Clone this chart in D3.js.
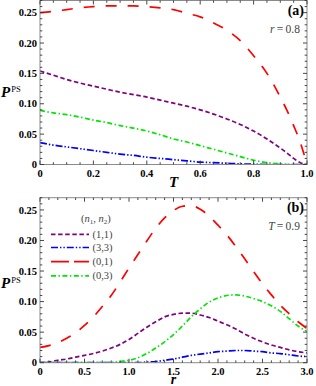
<!DOCTYPE html>
<html><head><meta charset="utf-8">
<script src="https://cdn.jsdelivr.net/npm/d3@7"></script>
<style>body{margin:0;background:#fff}svg{display:block}text{font-family:"Liberation Serif","Times New Roman",serif}</style>
</head><body><svg id="c" width="316" height="386" font-family="Liberation Serif, Times New Roman, serif"></svg>
<script>
// ---------- data: panel (a), r = 0.8 ----------
const tValues = [0,0.05,0.1,0.15,0.2,0.25,0.3,0.35,0.4,0.45,0.5,0.55,0.6,0.65,0.7,0.75,0.8,0.85,0.9,0.925,0.95,0.975,1.0];
const a11 = [0.154,0.147,0.140,0.134,0.129,0.124,0.119,0.115,0.111,0.106,0.101,0.096,0.090,0.083,0.075,0.066,0.055,0.042,0.027,0.019,0.010,0.003,0];
const a33 = [0.036,0.032,0.029,0.026,0.023,0.020,0.017,0.015,0.012,0.010,0.008,0.006,0.004,0.003,0.002,0.001,0.0005,0,0,0,0,0,0];
const a01 = [0.250,0.252,0.255,0.258,0.260,0.261,0.261,0.261,0.260,0.258,0.255,0.249,0.243,0.233,0.221,0.204,0.179,0.150,0.111,0.089,0.064,0.036,0];
const a03 = [0.089,0.085,0.082,0.078,0.073,0.069,0.064,0.060,0.055,0.049,0.042,0.037,0.031,0.025,0.019,0.013,0.007,0.003,0.001,0,0,0,0];
// ---------- data: panel (b), T = 0.9 ----------
const rValues = [0,0.1,0.2,0.3,0.4,0.5,0.6,0.7,0.8,0.9,1.0,1.1,1.2,1.3,1.4,1.5,1.6,1.7,1.8,1.9,2.0,2.1,2.2,2.3,2.4,2.5,2.6,2.7,2.8,2.9,3.0];
const b11 = [0,0.001,0.004,0.006,0.009,0.012,0.015,0.019,0.024,0.030,0.038,0.048,0.058,0.067,0.075,0.079,0.081,0.081,0.078,0.074,0.068,0.062,0.055,0.047,0.040,0.034,0.029,0.025,0.021,0.018,0.016];
const b33 = [0,0,0,0,0,0,0,0,0,0,0,0,0.001,0.002,0.004,0.006,0.009,0.012,0.014,0.016,0.018,0.019,0.020,0.020,0.019,0.018,0.016,0.015,0.013,0.011,0.010];
const b01 = [0.025,0.028,0.033,0.040,0.049,0.061,0.075,0.092,0.110,0.132,0.155,0.177,0.199,0.220,0.237,0.249,0.256,0.257,0.251,0.240,0.225,0.209,0.190,0.170,0.149,0.129,0.111,0.094,0.080,0.067,0.056];
const b03 = [0,0,0,0,0,0,0,0,0,0.002,0.004,0.008,0.015,0.024,0.034,0.046,0.060,0.075,0.088,0.099,0.106,0.110,0.111,0.109,0.105,0.100,0.093,0.084,0.072,0.060,0.051];
// ---------- labels ----------
const seriesNames = ["(1,1)","(3,3)","(0,1)","(0,3)"];
const yTickVals = [0,0.05,0.10,0.15,0.20,0.25];
const yTickLabels = ["0","0.05","0.10","0.15","0.20","0.25"];
const xTickValsA = [0,0.2,0.4,0.6,0.8,1.0];
const xTickLabelsA = ["0","0.2","0.4","0.6","0.8","1.0"];
const xTickValsB = [0,0.5,1.0,1.5,2.0,2.5,3.0];
const xTickLabelsB = ["0","0.5","1.0","1.5","2.0","2.5","3.0"];

const colors = ["#800080","#0000ff","#ff0000","#00e600"];
const dashes = ["4.5,2.6","7,2,1.4,2,1.4,2","11,11","5,2.5,1.4,2.5"];
const legendDashes = ["4.5,2.6","7,2,1.4,2,1.4,2","18,5","5,2.5,1.4,2.5"];

const svg = d3.select("#c");
const X0 = 40, X1 = 307;

function panel(cfg){
  const x = d3.scaleLinear().domain(cfg.xdom).range([X0,X1]);
  const y = d3.scaleLinear().domain([0,0.27]).range([cfg.yb, cfg.yt]);
  const g = svg.append("g");
  const cid = "clip"+cfg.id;
  svg.append("clipPath").attr("id",cid).append("rect")
    .attr("x",X0).attr("y",cfg.yt).attr("width",X1-X0).attr("height",cfg.yb-cfg.yt);
  // curves
  const line = d3.line().x((d,i)=>x(cfg.xs[i])).y(d=>y(d)).curve(d3.curveMonotoneX);
  const lg = g.append("g").attr("clip-path","url(#"+cid+")");
  cfg.series.forEach((s,k)=>{
    lg.append("path").attr("d",line(s)).attr("fill","none")
      .attr("stroke",colors[k]).attr("stroke-width",1.7)
      .attr("stroke-dasharray",dashes[k]);
  });
  // frame
  g.append("rect").attr("x",X0).attr("y",cfg.yt).attr("width",X1-X0).attr("height",cfg.yb-cfg.yt)
    .attr("fill","none").attr("stroke","#8a8a8a").attr("stroke-width",1);
  const tk = g.append("g").attr("stroke","#333").attr("stroke-width",0.9);
  // y ticks
  const yMinor = d3.range(0,0.2701,0.01);
  yMinor.forEach(v=>{
    const major = Math.abs(v/0.05 - Math.round(v/0.05))<1e-6;
    const L = major?4:2.3;
    const yy = y(v);
    tk.append("line").attr("x1",X0).attr("x2",X0+L).attr("y1",yy).attr("y2",yy);
    tk.append("line").attr("x1",X1).attr("x2",X1-L).attr("y1",yy).attr("y2",yy);
  });
  // x ticks
  const xMinor = d3.range(cfg.xdom[0], cfg.xdom[1]+1e-6, cfg.minor);
  xMinor.forEach(v=>{
    const major = cfg.xticks.some(t=>Math.abs(t-v)<1e-6);
    const L = major?4:2.3;
    const xx = x(v);
    tk.append("line").attr("x1",xx).attr("x2",xx).attr("y1",cfg.yb).attr("y2",cfg.yb-L);
    tk.append("line").attr("x1",xx).attr("x2",xx).attr("y1",cfg.yt).attr("y2",cfg.yt+L);
  });
  // tick labels
  yTickVals.forEach((v,i)=>{
    g.append("text").attr("x",37).attr("y",y(v)+3.6).attr("text-anchor","end")
      .attr("font-size",10.5).attr("font-weight","bold").text(yTickLabels[i]);
  });
  cfg.xticks.forEach((v,i)=>{
    g.append("text").attr("x",x(v)).attr("y",cfg.yb+12.5).attr("text-anchor","middle")
      .attr("font-size",10.5).attr("font-weight","bold").text(cfg.xlabels[i]);
  });
  // axis titles
  const yl = g.append("text").attr("x",1).attr("y",cfg.pBase);
  yl.append("tspan").attr("font-size",15).attr("font-style","italic").attr("font-weight","bold").text("P");
  yl.append("tspan").attr("font-size",8.5).attr("dy",-5).attr("dx",1).text("PS");
  g.append("text").attr("x",x(cfg.xtitleAt)).attr("y",cfg.xtBase).attr("text-anchor","middle")
    .attr("font-size",cfg.xtSize).attr("font-style","italic").attr("font-weight","bold").text(cfg.xtitle);
  // panel tag + parameter
  g.append("text").attr("x",304).attr("y",cfg.yt+14).attr("text-anchor","end")
    .attr("font-size",14).attr("font-weight","bold").text(cfg.tag);
  const pt = g.append("text").attr("x",300).attr("y",cfg.yt+32).attr("text-anchor","end")
    .attr("font-size",11.5).attr("fill","#444");
  pt.append("tspan").attr("font-style","italic").text(cfg.param);
  pt.append("tspan").text("\u2009=\u2009"+cfg.pval);
  return {x,y,g};
}

panel({id:"a", xdom:[0,1], yt:0.5, yb:164.5, xs:tValues, series:[a11,a33,a01,a03],
  xticks:xTickValsA, xlabels:xTickLabelsA, minor:0.05, pBase:97, xtitle:"T", xtitleAt:0.5, xtBase:187, xtSize:15,
  tag:"(a)", param:"r", pval:"0.8"});
panel({id:"b", xdom:[0,3], yt:197.7, yb:362.7, xs:rValues, series:[b11,b33,b01,b03],
  xticks:xTickValsB, xlabels:xTickLabelsB, minor:0.1, pBase:288, xtitle:"r", xtitleAt:1.5, xtBase:383.5, xtSize:14,
  tag:"(b)", param:"T", pval:"0.9"});

// legend
const lgd = svg.append("g");
const hd = lgd.append("text").attr("x",81).attr("y",222).attr("font-size",10.5).attr("fill","#444");
hd.append("tspan").text("(");
hd.append("tspan").attr("font-style","italic").text("n");
hd.append("tspan").attr("font-size",7).attr("dy",2).text("1");
hd.append("tspan").attr("dy",-2).text(", ");
hd.append("tspan").attr("font-style","italic").text("n");
hd.append("tspan").attr("font-size",7).attr("dy",2).text("2");
hd.append("tspan").attr("dy",-2).text(")");
const rowY = [234.3,247.5,261.7,275.8];
seriesNames.forEach((n,k)=>{
  lgd.append("line").attr("x1",51).attr("x2",89).attr("y1",rowY[k]).attr("y2",rowY[k])
    .attr("stroke",colors[k]).attr("stroke-width",1.7).attr("stroke-dasharray",legendDashes[k]);
  lgd.append("text").attr("x",92.5).attr("y",rowY[k]+3.6).attr("font-size",10.5).attr("fill","#444").text(n);
});
</script></body></html>
